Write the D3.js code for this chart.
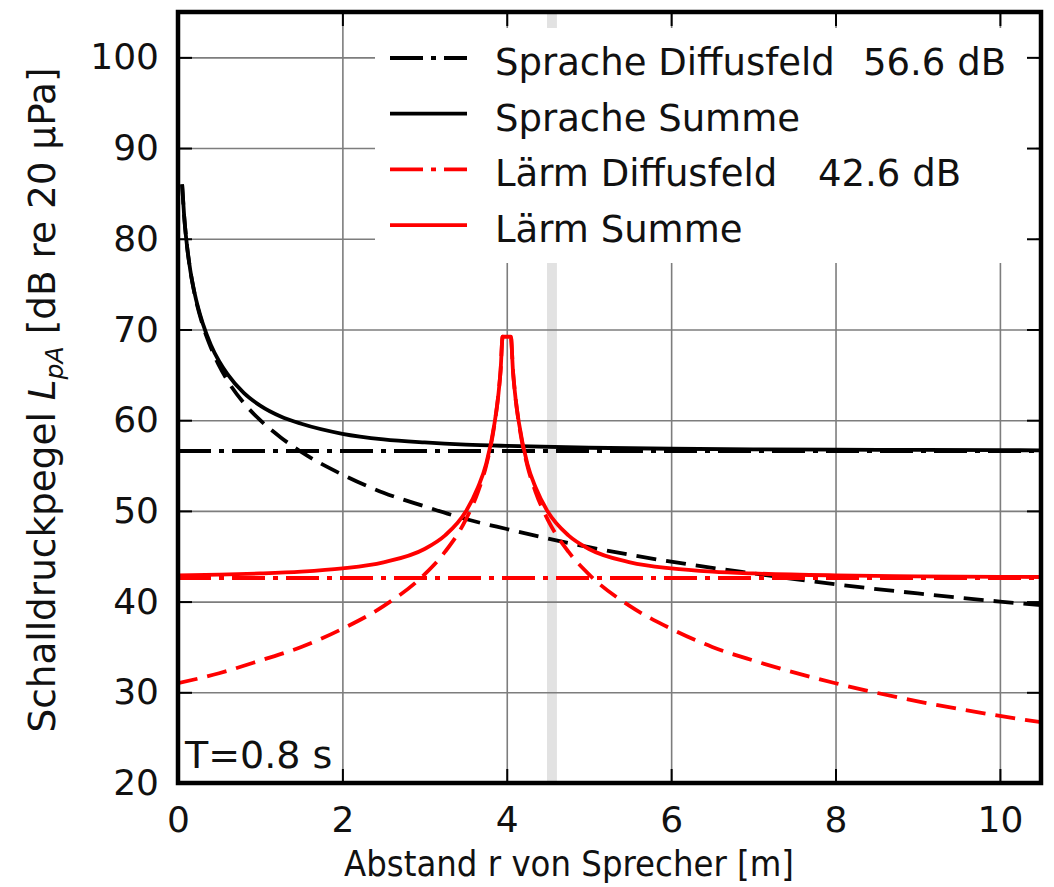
<!DOCTYPE html>
<html>
<head>
<meta charset="utf-8">
<script src="https://cdn.jsdelivr.net/npm/d3@7"></script>
<style>
body{margin:0;background:#fff}
text{font-family:"DejaVu Sans",sans-serif;fill:#111}
</style>
</head>
<body>
<svg id="chart" width="1054" height="887"></svg>
<script>
// values (distance r in m, level in dB)
var sprR      = [0.05, 0.075, 0.1, 0.15, 0.2, 0.3, 0.4, 0.5, 0.6, 0.8, 1.0, 1.25, 1.5, 2, 2.5, 3, 3.5, 4, 5, 6, 7, 8, 9, 10, 10.5]
var sprDirect = [86.0, 82.5, 80.0, 76.5, 74.0, 70.5, 68.0, 66.0, 64.4, 61.9, 60.0, 58.1, 56.5, 54.0, 52.0, 50.5, 49.1, 48.0, 46.0, 44.4, 43.1, 41.9, 40.9, 40.0, 39.6]
var sprSum    = [86.0, 82.5, 80.0, 76.5, 74.1, 70.7, 68.3, 66.5, 65.1, 63.0, 61.6, 60.4, 59.6, 58.5, 57.89, 57.55, 57.31, 57.16, 56.96, 56.85, 56.79, 56.75, 56.72, 56.69, 56.68]

var laermR      = [0, 0.5, 1, 1.5, 2, 2.5, 3, 3.25, 3.5, 3.65, 3.75, 3.85, 3.9, 3.925, 3.95, 4.05, 4.075, 4.1, 4.15, 4.25, 4.35, 4.5, 4.75, 5, 5.5, 6, 6.5, 7, 8, 9, 10, 10.5]
var laermDirect = [31.0, 32.1, 33.5, 35.0, 37.0, 39.5, 43.0, 45.5, 49.0, 52.1, 55.0, 59.5, 63.0, 65.5, 69.2, 69.2, 65.5, 63.0, 59.5, 55.0, 52.1, 49.0, 45.5, 43.0, 39.5, 37.0, 35.0, 33.5, 31.0, 29.0, 27.4, 26.7]
var laermSum    = [42.89, 42.97, 43.1, 43.3, 43.66, 44.33, 45.8, 47.3, 49.9, 52.6, 55.2, 59.6, 63.0, 65.5, 69.2, 69.2, 65.5, 63.0, 59.6, 55.2, 52.6, 49.9, 47.3, 45.8, 44.33, 43.66, 43.3, 43.1, 42.89, 42.79, 42.73, 42.71]

var diffR        = [0, 10.5]
var sprDiffuse   = [56.6, 56.6]
var laermDiffuse = [42.6, 42.6]

var bandR = [4.49, 4.61]

var xTicks = [0, 2, 4, 6, 8, 10]
var yTicks = [20, 30, 40, 50, 60, 70, 80, 90, 100]

var legendLabels = ['Sprache Diffusfeld', 'Sprache Summe', 'Lärm Diffusfeld', 'Lärm Summe']
var legendValues = ['56.6 dB', '', '42.6 dB', '']

function draw(){
	var svg = d3.select('#chart')
	var L = 178, R = 1041, T = 12, B = 783

	var x = d3.scaleLinear().domain([0, 10.5]).range([L, R])
	var y = d3.scaleLinear().domain([20, 105]).range([B, T])

	svg.append('clipPath').attr('id', 'plot')
		.append('rect').attr('x', L).attr('y', T).attr('width', R - L).attr('height', B - T)

	// grey band
	svg.append('rect')
		.attr('x', x(bandR[0])).attr('y', T)
		.attr('width', x(bandR[1]) - x(bandR[0])).attr('height', B - T)
		.style('fill', '#e2e2e2')

	// grid
	var grid = svg.append('g')
	grid.append('g').attr('transform', 'translate(0,' + B + ')')
		.call(d3.axisBottom(x).tickValues(xTicks).tickSize(-(B - T)).tickFormat(''))
	grid.append('g').attr('transform', 'translate(' + L + ',0)')
		.call(d3.axisLeft(y).tickValues(yTicks).tickSize(-(R - L)).tickFormat(''))
	grid.selectAll('.domain').remove()
	grid.selectAll('line').style('stroke', '#7d7d7d').style('stroke-width', 1.6)

	var series = [
		{r: sprR, v: sprDirect, color: '#000', dash: '20,10'},
		{r: diffR, v: sprDiffuse, color: '#000', dash: '33,8,5,8'},
		{r: sprR, v: sprSum, color: '#000', dash: null},
		{r: laermR, v: laermDirect, color: '#ff0000', dash: '20,10'},
		{r: diffR, v: laermDiffuse, color: '#ff0000', dash: '33,8,5,8'},
		{r: laermR, v: laermSum, color: '#ff0000', dash: null}
	]

	var line = d3.line()
		.x(function(d){return x(d[0])})
		.y(function(d){return y(d[1])})
		.curve(d3.curveMonotoneX)

	var g = svg.append('g').attr('clip-path', 'url(#plot)')
	g.selectAll('.curve')
		.data(series)
		.enter()
		.append('path')
		.attr('class', 'curve')
		.attr('d', function(s){return line(s.r.map(function(r, i){return [r, s.v[i]]}))})
		.style('fill', 'none')
		.style('stroke', function(s){return s.color})
		.style('stroke-width', 3.8)
		.style('stroke-dasharray', function(s){return s.dash})

	// legend
	var lg = svg.append('g')
	lg.append('rect')
		.attr('x', 375).attr('y', 28).attr('width', 661).attr('height', 235)
		.style('fill', '#fff')
	var legendStyle = [series[1], series[2], series[4], series[5]]
	var rows = lg.selectAll('.row')
		.data(legendLabels)
		.enter()
		.append('g')
		.attr('transform', function(d, i){return 'translate(0,' + (75 + i * 55.7) + ')'})
	rows.append('line')
		.attr('x1', 390).attr('x2', 467).attr('y1', -17).attr('y2', -17)
		.style('stroke', function(d, i){return legendStyle[i].color})
		.style('stroke-width', 3.8)
		.style('stroke-dasharray', function(d, i){return legendStyle[i].dash})
	rows.append('text')
		.attr('x', 495).attr('y', 0)
		.style('font-size', '37px')
		.text(function(d){return d})
	rows.append('text')
		.attr('x', function(d, i){return i === 0 ? 863 : 818}).attr('y', 0)
		.style('font-size', '37px')
		.text(function(d, i){return legendValues[i]})

	// axes with inner ticks
	var ax = svg.append('g')
	ax.append('g').attr('transform', 'translate(0,' + B + ')')
		.call(d3.axisBottom(x).tickValues(xTicks).tickSizeInner(-14).tickSizeOuter(0).tickPadding(23))
	ax.append('g').attr('transform', 'translate(' + L + ',0)')
		.call(d3.axisLeft(y).tickValues(yTicks).tickSizeInner(-14).tickSizeOuter(0).tickPadding(19))
	ax.append('g').attr('transform', 'translate(0,' + T + ')')
		.call(d3.axisTop(x).tickValues(xTicks).tickSizeInner(-14).tickSizeOuter(0).tickFormat(''))
	ax.append('g').attr('transform', 'translate(' + R + ',0)')
		.call(d3.axisRight(y).tickValues(yTicks).tickSizeInner(-14).tickSizeOuter(0).tickFormat(''))
	ax.selectAll('.domain').remove()
	ax.selectAll('line').style('stroke', '#000').style('stroke-width', 2)
	ax.selectAll('text').style('font-size', '36px').style('font-family', '"DejaVu Sans",sans-serif').style('fill', '#111')

	// frame
	svg.append('rect')
		.attr('x', L).attr('y', T).attr('width', R - L).attr('height', B - T)
		.style('fill', 'none').style('stroke', '#000').style('stroke-width', 4.5)

	svg.append('text')
		.attr('x', 185).attr('y', 768)
		.style('font-size', '38px')
		.text('T=0.8 s')

	svg.append('text')
		.attr('x', 569).attr('y', 876)
		.attr('text-anchor', 'middle')
		.attr('textLength', 450).attr('lengthAdjust', 'spacingAndGlyphs')
		.style('font-size', '35px')
		.text('Abstand r von Sprecher [m]')

	var yl = svg.append('text')
		.attr('transform', 'translate(55,400) rotate(-90)')
		.attr('text-anchor', 'middle')
		.attr('textLength', 665).attr('lengthAdjust', 'spacingAndGlyphs')
		.style('font-size', '37px')
	yl.append('tspan').text('Schalldruckpegel ')
	yl.append('tspan').style('font-style', 'italic').text('L')
	yl.append('tspan').style('font-style', 'italic').style('font-size', '25px').attr('dy', 8).text('pA')
	yl.append('tspan').attr('dy', -8).text(' [dB re 20 µPa]')
}
draw()
</script>
</body>
</html>
